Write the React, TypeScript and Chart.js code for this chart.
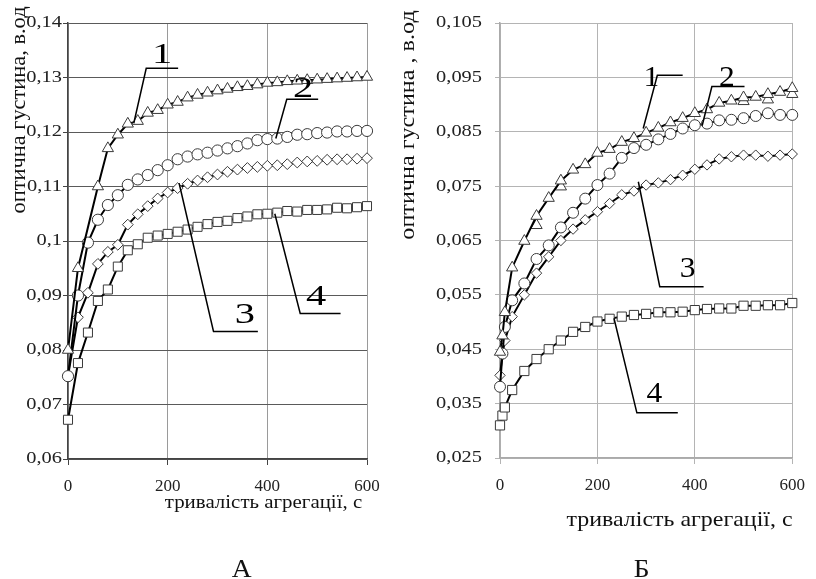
import React, { useEffect, useRef } from "react";
import { Chart, registerables } from "chart.js";

Chart.register(...registerables);

const FONT = '"Liberation Serif", "Times New Roman", serif';

// ---------- Panel A ----------
const timeA = [0, 20, 40, 60, 80, 100, 120, 140, 160, 180, 200, 220, 240, 260, 280, 300, 320, 340, 360, 380, 400, 420, 440, 460, 480, 500, 520, 540, 560, 580, 600];
const timeA1 = [0, 20, 60, 80, 100, 120, 140, 160, 180, 200, 220, 240, 260, 280, 300, 320, 340, 360, 380, 400, 420, 440, 460, 480, 500, 520, 540, 560, 580, 600];
const a1 = [0.080, 0.095, 0.110, 0.117, 0.1195, 0.1215, 0.122, 0.1235, 0.124, 0.125, 0.1255, 0.1263, 0.1268, 0.1272, 0.1276, 0.1279, 0.1282, 0.1284, 0.1287, 0.129, 0.1291, 0.1293, 0.1294, 0.1295, 0.1296, 0.1297, 0.1298, 0.1299, 0.13, 0.1301];
const a2 = [0.0752, 0.090, 0.0997, 0.1039, 0.1066, 0.1084, 0.1103, 0.1113, 0.1121, 0.113, 0.1139, 0.115, 0.1155, 0.1159, 0.1162, 0.1166, 0.117, 0.1174, 0.1179, 0.1185, 0.1187, 0.1188, 0.1191, 0.1195, 0.1196, 0.1198, 0.1199, 0.1201, 0.1201, 0.1202, 0.1202];
const a3 = [0.0752, 0.086, 0.0905, 0.0958, 0.098, 0.0993, 0.103, 0.1049, 0.1064, 0.1078, 0.1089, 0.1097, 0.1105, 0.1111, 0.1117, 0.1122, 0.1127, 0.1131, 0.1134, 0.1136, 0.1138, 0.1139, 0.1141, 0.1144, 0.1146, 0.1147, 0.1149, 0.115, 0.115, 0.1151, 0.1152];
const a4 = [0.0672, 0.0776, 0.0832, 0.089, 0.0911, 0.0953, 0.0983, 0.0994, 0.1006, 0.101, 0.1013, 0.1017, 0.1021, 0.1026, 0.1031, 0.1035, 0.1037, 0.1042, 0.1045, 0.1049, 0.105, 0.1052, 0.1055, 0.1054, 0.1057, 0.1057, 0.1058, 0.1061, 0.106, 0.1062, 0.1064];
const yTicksA = [0.06, 0.07, 0.08, 0.09, 0.1, 0.11, 0.12, 0.13, 0.14];

// ---------- Panel B ----------
const timeB = [0, 5, 10, 25, 50, 75, 100, 125, 150, 175, 200, 225, 250, 275, 300, 325, 350, 375, 400, 425, 450, 475, 500, 525, 550, 575, 600];
const b1 = [0.0445, 0.0475, 0.0518, 0.060, 0.0649, 0.0695, 0.0728, 0.076, 0.078, 0.079, 0.0811, 0.0818, 0.0831, 0.0838, 0.0848, 0.0857, 0.0867, 0.0875, 0.0884, 0.0891, 0.0903, 0.0907, 0.0913, 0.0914, 0.0919, 0.0923, 0.093];
const timeB1extra = [75, 125, 500, 550, 600];
const b1extra = [0.0678, 0.0749, 0.0906, 0.0909, 0.0919];
const b2 = [0.0381, 0.0442, 0.0491, 0.054, 0.0571, 0.0616, 0.0641, 0.0674, 0.0701, 0.0727, 0.0752, 0.0773, 0.0802, 0.082, 0.0826, 0.0836, 0.0846, 0.0856, 0.0862, 0.0865, 0.0871, 0.0872, 0.0875, 0.0879, 0.0884, 0.0881, 0.0881];
const b3 = [0.0402, 0.044, 0.0466, 0.051, 0.055, 0.059, 0.062, 0.065, 0.0671, 0.0688, 0.0703, 0.0718, 0.0734, 0.0741, 0.0752, 0.0756, 0.0762, 0.077, 0.0781, 0.0789, 0.08, 0.0804, 0.0807, 0.0807, 0.0805, 0.0807, 0.0809];
const b4 = [0.031, 0.0328, 0.0343, 0.0375, 0.041, 0.0432, 0.045, 0.0466, 0.0482, 0.0491, 0.0501, 0.0506, 0.051, 0.0513, 0.0515, 0.0518, 0.0518, 0.0519, 0.0522, 0.0524, 0.0525, 0.0525, 0.053, 0.053, 0.0531, 0.0531, 0.0535];
const yTicksB = [0.025, 0.035, 0.045, 0.055, 0.065, 0.075, 0.085, 0.095, 0.105];

const xTicks = [0, 200, 400, 600];

const xTitle = "тривалість агрегації, с";
const yTitleA = "оптична густина, в.од";
const yTitleB = "оптична густина , в.од";
const panelA = "А";
const panelB = "Б";

type Note = { label: string; path: [number, number][]; at: [number, number] };

// leader lines in data units (time, value)
const notesA: Note[] = [
  { label: "1", path: [[132, 0.1216], [157, 0.1317], [221, 0.1317]], at: [189, 0.1345] },
  { label: "2", path: [[417, 0.1188], [439, 0.126], [502, 0.126]], at: [472, 0.1283] },
  { label: "3", path: [[223, 0.1106], [292, 0.0834], [381, 0.0834]], at: [355, 0.0868] },
  { label: "4", path: [[415, 0.105], [466, 0.0867], [547, 0.0867]], at: [498, 0.0901] },
];
const notesB: Note[] = [
  { label: "1", path: [[294, 0.0856], [323, 0.0954], [375, 0.0954]], at: [311, 0.0953] },
  { label: "2", path: [[415, 0.0861], [435, 0.0933], [502, 0.0933]], at: [466, 0.0953] },
  { label: "3", path: [[284, 0.0758], [328, 0.0565], [418, 0.0565]], at: [385, 0.0601] },
  { label: "4", path: [[234, 0.0507], [281, 0.0333], [365, 0.0333]], at: [317, 0.0371] },
];

type TextItem = { text: string; x: number; y: number; size: number; sx?: number; rotate?: boolean };

const toPts = (t: number[], v: number[]) => t.map((x, i) => ({ x, y: v[i] }));

function leaderPlugin(notes: Note[], size: number, sx: number) {
  return {
    id: "leaders",
    afterDatasetsDraw(chart: any) {
      const { ctx, scales } = chart;
      const xs = scales.x, ys = scales.y;
      ctx.save();
      ctx.strokeStyle = "#000";
      ctx.lineWidth = 1.5;
      notes.forEach((n) => {
        ctx.beginPath();
        n.path.forEach(([t, v], i) => {
          const px = xs.getPixelForValue(t), py = ys.getPixelForValue(v);
          if (i === 0) ctx.moveTo(px, py); else ctx.lineTo(px, py);
        });
        ctx.stroke();
        ctx.save();
        ctx.font = `${size}px ${FONT}`;
        ctx.fillStyle = "#000";
        ctx.textAlign = "center";
        ctx.textBaseline = "alphabetic";
        ctx.translate(xs.getPixelForValue(n.at[0]), ys.getPixelForValue(n.at[1]) + 0.33 * size);
        ctx.scale(sx, 1);
        ctx.fillText(n.label, 0, 0);
        ctx.restore();
      });
      ctx.restore();
    },
  };
}

function textPlugin(texts: TextItem[]) {
  return {
    id: "texts",
    afterDraw(chart: any) {
      const ctx = chart.ctx;
      texts.forEach((t) => {
        ctx.save();
        ctx.font = `${t.size}px ${FONT}`;
        ctx.fillStyle = "#111";
        ctx.textAlign = "center";
        ctx.textBaseline = "middle";
        ctx.translate(t.x, t.y);
        if (t.rotate) ctx.rotate(-Math.PI / 2);
        ctx.scale(t.sx || 1, 1);
        ctx.fillText(t.text, 0, 0);
        ctx.restore();
      });
    },
  };
}

function yLabelPlugin(ticks: number[], fmt: (v: number) => string, gap: number, size: number, sx: number) {
  return {
    id: "ylabels",
    afterDraw(chart: any) {
      const { ctx, scales, chartArea } = chart;
      ticks.forEach((v) => {
        ctx.save();
        ctx.font = `${size}px ${FONT}`;
        ctx.fillStyle = "#222";
        ctx.textAlign = "right";
        ctx.textBaseline = "middle";
        ctx.translate(chartArea.left - gap, scales.y.getPixelForValue(v));
        ctx.scale(sx, 1);
        ctx.fillText(fmt(v), 0, 0);
        ctx.restore();
      });
    },
  };
}

function series(data: any[], style: string, radius: number, extra: any = {}) {
  return {
    data,
    borderColor: "#000",
    borderWidth: 2,
    pointStyle: style,
    pointRadius: radius,
    pointBackgroundColor: "#fff",
    pointBorderColor: "#3a3a3a",
    pointBorderWidth: 1,
    tension: 0,
    clip: false,
    ...extra,
  };
}

type PanelCfg = {
  datasets: any[];
  yMin: number;
  yMax: number;
  yTicks: number[];
  yFmt: (v: number) => string;
  pad: { left: number; top: number; right: number; bottom: number };
  yWidth: number;
  yGrid: string;
  xGrid: string;
  axisColor: string;
  yLabelGap: number;
  tickColor: string;
  notes: Note[];
  noteSize: number;
  noteSx: number;
  texts: TextItem[];
};

function Panel({ cfg, left, width }: { cfg: PanelCfg; left: number; width: number }) {
  const ref = useRef<HTMLCanvasElement | null>(null);
  useEffect(() => {
    if (!ref.current) return;
    const chart = new Chart(ref.current, {
      type: "line",
      data: { datasets: cfg.datasets },
      options: {
        responsive: false,
        animation: false,
        devicePixelRatio: 1,
        layout: { padding: cfg.pad },
        plugins: { legend: { display: false }, tooltip: { enabled: false } },
        scales: {
          x: {
            type: "linear",
            min: 0,
            max: 600,
            afterBuildTicks: (s: any) => {
              s.ticks = xTicks.map((v) => ({ value: v }));
            },
            afterFit: (s: any) => {
              s.height = 40;
            },
            grid: { color: cfg.xGrid, tickColor: cfg.tickColor, tickLength: 6, lineWidth: 1 },
            border: { color: cfg.axisColor, width: 1.5 },
            ticks: {
              font: { family: FONT, size: 17 },
              color: "#222",
              padding: 11,
              maxRotation: 0,
              callback: (v: any) => String(v),
            },
          },
          y: {
            type: "linear",
            min: cfg.yMin,
            max: cfg.yMax,
            afterBuildTicks: (s: any) => {
              s.ticks = cfg.yTicks.map((v) => ({ value: v }));
            },
            afterFit: (s: any) => {
              s.width = cfg.yWidth;
            },
            grid: { color: cfg.yGrid, tickColor: cfg.tickColor, tickLength: 5, lineWidth: 1 },
            border: { color: cfg.axisColor, width: 1.5 },
            ticks: { display: false },
          },
        },
      } as any,
      plugins: [
        leaderPlugin(cfg.notes, cfg.noteSize, cfg.noteSx),
        yLabelPlugin(cfg.yTicks, cfg.yFmt, cfg.yLabelGap, 17, 1.2),
        textPlugin(cfg.texts),
      ],
    });
    return () => chart.destroy();
  }, []);
  return (
    <canvas
      ref={ref}
      width={width}
      height={579}
      style={{ position: "absolute", left, top: 0, width, height: 579 }}
    />
  );
}

const cfgA: PanelCfg = {
  datasets: [
    series(toPts(timeA1, a1), "triangle", 6.5),
    series(toPts(timeA, a2), "circle", 5.6),
    series(toPts(timeA, a3), "rectRot", 5.4),
    series(toPts(timeA, a4), "rect", 6.4),
  ],
  yMin: 0.06,
  yMax: 0.14,
  yTicks: yTicksA,
  yFmt: (v) => String(Math.round(v * 100) / 100).replace(".", ","),
  pad: { left: 0, top: 23, right: 33, bottom: 80 },
  yWidth: 68,
  yGrid: "#5a5a5a",
  xGrid: "#9a9a9a",
  axisColor: "#444",
  yLabelGap: 6,
  tickColor: "#444",
  notes: notesA,
  noteSize: 30,
  noteSx: 1.35,
  texts: [
    { text: yTitleA, x: 20, y: 110, size: 20, sx: 1.12, rotate: true },
    { text: xTitle, x: 263.5, y: 503, size: 19, sx: 1.1 },
    { text: panelA, x: 241.7, y: 570, size: 25, sx: 1.1 },
  ],
};

const cfgB: PanelCfg = {
  datasets: [
    series(toPts(timeB, b1), "triangle", 6.5),
    series(toPts(timeB1extra, b1extra), "triangle", 6.5, { showLine: false }),
    series(toPts(timeB, b2), "circle", 5.5),
    series(toPts(timeB, b3), "rectRot", 5.2),
    series(toPts(timeB, b4), "rect", 6.5),
  ],
  yMin: 0.025,
  yMax: 0.105,
  yTicks: yTicksB,
  yFmt: (v) => v.toFixed(3).replace(".", ","),
  pad: { left: 0, top: 23, right: 17, bottom: 81 },
  yWidth: 100,
  yGrid: "#b4b4b4",
  xGrid: "#b4b4b4",
  axisColor: "#aaa",
  yLabelGap: 18,
  tickColor: "#b4b4b4",
  notes: notesB,
  noteSize: 30,
  noteSx: 1.05,
  texts: [
    { text: yTitleB, x: 8, y: 125, size: 21, sx: 1.15, rotate: true },
    { text: xTitle, x: 279.5, y: 520, size: 21, sx: 1.14 },
    { text: panelB, x: 241.7, y: 570, size: 25, sx: 1.1 },
  ],
};

export default function App() {
  return (
    <div style={{ position: "absolute", left: 0, top: 0, width: 816, height: 579, background: "#fff" }}>
      <Panel cfg={cfgA} left={0} width={400} />
      <Panel cfg={cfgB} left={400} width={416} />
    </div>
  );
}
